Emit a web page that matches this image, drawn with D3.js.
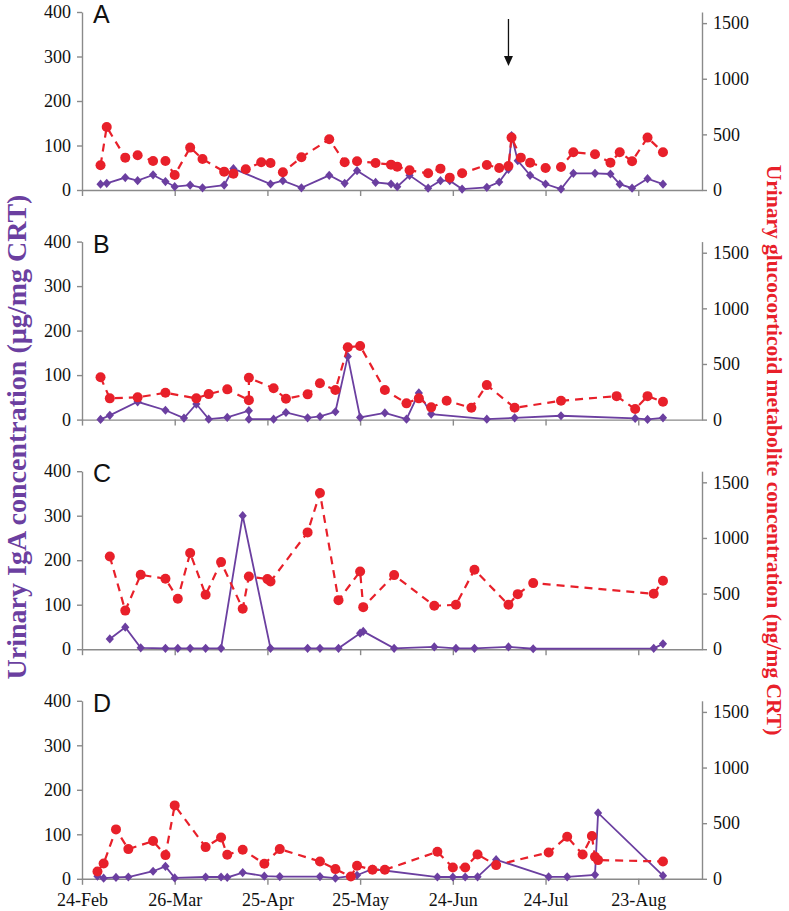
<!DOCTYPE html>
<html><head><meta charset="utf-8">
<script src="https://cdn.jsdelivr.net/npm/d3@7"></script>
<style>body{margin:0;background:#fff}svg{display:block}</style>
</head><body>
<svg id="chart" width="789" height="911"></svg>
<script>
// ---------- data ----------
const panelLabels = ["A", "B", "C", "D"];
const xTickLabels = ["24-Feb", "26-Mar", "25-Apr", "25-May", "24-Jun", "24-Jul", "23-Aug"];
const leftTicks = [0, 100, 200, 300, 400];
const rightTicks = [0, 500, 1000, 1500];
const arrowDate = "2011-07-12";

// Panel A
const aIgaDates = ["2011-03-02","2011-03-04","2011-03-10","2011-03-14","2011-03-19","2011-03-23","2011-03-26","2011-03-31","2011-04-04","2011-04-11","2011-04-14","2011-04-26","2011-04-30","2011-05-06","2011-05-15","2011-05-20","2011-05-24","2011-05-30","2011-06-04","2011-06-06","2011-06-10","2011-06-16","2011-06-20","2011-06-23","2011-06-27","2011-07-05","2011-07-09","2011-07-12","2011-07-13","2011-07-15","2011-07-19","2011-07-24","2011-07-29","2011-08-02","2011-08-09","2011-08-14","2011-08-17","2011-08-21","2011-08-26","2011-08-31"];
const aIgaValues = [13,15,28,21,34,19,7.5,11,5,11,48,13.5,21,5,33,15,43.5,17,13.5,7.5,33,4,21,21,2,6,18,46.5,122,66,33,13.5,2,37.5,37.5,36,13,4,25.5,13];
const aGcDates = ["2011-03-02","2011-03-04","2011-03-10","2011-03-14","2011-03-19","2011-03-23","2011-03-26","2011-03-31","2011-04-04","2011-04-11","2011-04-14","2011-04-18","2011-04-23","2011-04-26","2011-04-30","2011-05-06","2011-05-15","2011-05-20","2011-05-24","2011-05-30","2011-06-04","2011-06-06","2011-06-10","2011-06-16","2011-06-20","2011-06-23","2011-06-27","2011-07-05","2011-07-09","2011-07-12","2011-07-13","2011-07-16","2011-07-19","2011-07-24","2011-07-29","2011-08-02","2011-08-09","2011-08-14","2011-08-17","2011-08-21","2011-08-26","2011-08-31"];
const aGcValues = [222,567,291,312,261,261,135,381,279,165,147,186,249,243,159,294,456,249,258,243,228,210,177,150,192,111,150,225,198,216,471,291,246,198,207,339,321,246,339,258,471,339];

// Panel B
const bIgaDates = ["2011-03-02","2011-03-05","2011-03-14","2011-03-23","2011-03-29","2011-04-02","2011-04-06","2011-04-12","2011-04-19","2011-04-19","2011-04-27","2011-05-01","2011-05-08","2011-05-12","2011-05-17","2011-05-21","2011-05-25","2011-06-02","2011-06-09","2011-06-13","2011-06-17","2011-07-05","2011-07-14","2011-07-29","2011-08-22","2011-08-26","2011-08-31"];
const bIgaValues = [0.5,9.5,40,21,3.4,35,1,5,20,1,1,16,4,7,17.6,142,5,15,1,60,12.4,1,4,8.6,2.7,0.5,4];
const bGcDates = ["2011-03-02","2011-03-05","2011-03-14","2011-03-23","2011-04-02","2011-04-06","2011-04-12","2011-04-19","2011-04-19","2011-04-27","2011-05-01","2011-05-08","2011-05-12","2011-05-17","2011-05-21","2011-05-25","2011-06-02","2011-06-09","2011-06-13","2011-06-17","2011-06-22","2011-06-30","2011-07-05","2011-07-14","2011-07-29","2011-08-16","2011-08-22","2011-08-26","2011-08-31"];
const bGcValues = [380,191,200,241,191,229,272,175,376,281,187,227,326,266,650,662,266,146,191,110,169,106,310,106,169,211,95,211,160];

// Panel C
const cIgaDates = ["2011-03-05","2011-03-10","2011-03-15","2011-03-23","2011-03-27","2011-03-31","2011-04-05","2011-04-10","2011-04-17","2011-04-26","2011-05-08","2011-05-12","2011-05-18","2011-05-25","2011-05-26","2011-06-05","2011-06-18","2011-06-25","2011-07-01","2011-07-12","2011-07-20","2011-08-28","2011-08-31"];
const cIgaValues = [23,49.5,3,2,2,2,2,2,300,2,2,2,2,36,40,2,5,2,2,5,1,2,12];
const cGcDates = ["2011-03-05","2011-03-10","2011-03-15","2011-03-23","2011-03-27","2011-03-31","2011-04-05","2011-04-10","2011-04-17","2011-04-19","2011-04-25","2011-04-26","2011-05-08","2011-05-12","2011-05-18","2011-05-25","2011-05-26","2011-06-05","2011-06-18","2011-06-25","2011-07-01","2011-07-12","2011-07-15","2011-07-20","2011-08-28","2011-08-31"];
const cGcValues = [833,347,669,633,453,864,489,783,363,654,630,609,1050,1404,441,699,378,666,390,399,714,399,495,594,498,615];

// Panel D
const dIgaDates = ["2011-03-01","2011-03-03","2011-03-07","2011-03-11","2011-03-19","2011-03-23","2011-03-26","2011-04-05","2011-04-10","2011-04-12","2011-04-17","2011-04-24","2011-04-29","2011-05-12","2011-05-17","2011-05-24","2011-05-29","2011-06-19","2011-06-24","2011-06-28","2011-07-02","2011-07-08","2011-07-25","2011-07-31","2011-08-09","2011-08-10","2011-08-31"];
const dIgaValues = [6,1.5,3,4,17,28,2,4,4,3,14,6,5,5,1.5,8,22,4,4,4,4.5,43,4.5,4.5,9,148,7];
const dGcDates = ["2011-03-01","2011-03-03","2011-03-07","2011-03-11","2011-03-19","2011-03-23","2011-03-26","2011-04-05","2011-04-10","2011-04-12","2011-04-17","2011-04-24","2011-04-29","2011-05-12","2011-05-17","2011-05-22","2011-05-24","2011-05-29","2011-06-02","2011-06-19","2011-06-24","2011-06-28","2011-07-02","2011-07-08","2011-07-25","2011-07-31","2011-08-05","2011-08-08","2011-08-09","2011-08-10","2011-08-31"];
const dGcValues = [66,138,444,267,339,213,660,285,372,216,261,135,267,156,87,21,117,81,81,243,102,102,219,123,237,378,219,384,198,168,156];

const panels = [
  {iD: aIgaDates, iV: aIgaValues, gD: aGcDates, gV: aGcValues},
  {iD: bIgaDates, iV: bIgaValues, gD: bGcDates, gV: bGcValues},
  {iD: cIgaDates, iV: cIgaValues, gD: cGcDates, gV: cGcValues},
  {iD: dIgaDates, iV: dIgaValues, gD: dGcDates, gV: dGcValues}
];

// ---------- layout ----------
const parse = d3.timeParse("%Y-%m-%d");
const PURPLE = "#6b3fa0", RED = "#e8202a", AXIS = "#8a8a8a";
const X0 = 82, X1 = 702, PANEL_H = 178, PANEL_STEP = 229.6, TOP0 = 12;
const svg = d3.select("#chart");

const x = d3.scaleTime()
  .domain([parse("2011-02-24"), new Date(2011, 8, 12, 15)])
  .range([X0, X1]);
const xTickDates = d3.range(0, 7).map(i => d3.timeDay.offset(parse("2011-02-24"), i * 30));
const fmtTick = (d, i) => xTickLabels[i];

const diamond = "M0,-4.6L4.1,0L0,4.6L-4.1,0Z";

panels.forEach((p, pi) => {
  const top = TOP0 + pi * PANEL_STEP, bottom = top + PANEL_H;
  const yL = d3.scaleLinear().domain([0, 400]).range([bottom, top]);
  const yR = d3.scaleLinear().domain([0, 1600]).range([bottom, top]);
  const g = svg.append("g");

  const ax = (sel) => {
    sel.selectAll("path,line").attr("stroke", AXIS).attr("stroke-width", 1.4);
    sel.selectAll("text").attr("fill", "#111").attr("font-family", "'Liberation Serif','Times New Roman',serif").attr("font-size", 18);
  };
  g.append("g").attr("transform", `translate(${X0},0)`)
    .call(d3.axisLeft(yL).tickValues(leftTicks).tickSize(5).tickSizeOuter(0).tickPadding(6).tickFormat(d3.format("d")))
    .call(ax);
  g.append("g").attr("transform", `translate(${X1},0)`)
    .call(d3.axisRight(yR).tickValues(rightTicks).tickSize(5).tickSizeOuter(0).tickPadding(6).tickFormat(d3.format("d")))
    .call(ax);
  const xa = d3.axisBottom(x).tickValues(xTickDates).tickSize(6).tickSizeOuter(0).tickPadding(8)
    .tickFormat(pi === 3 ? fmtTick : () => "");
  g.append("g").attr("transform", `translate(0,${bottom})`).call(xa).call(ax);

  g.append("text").attr("x", X0 + 11).attr("y", top + 11).text(panelLabels[pi])
    .attr("font-family", "'Liberation Sans',Arial,sans-serif").attr("font-size", 25).attr("fill", "#111");

  const iga = p.iD.map((d, i) => ({x: parse(d), y: p.iV[i]}));
  g.append("path").datum(iga)
    .attr("d", d3.line().x(d => x(d.x)).y(d => yL(d.y)))
    .attr("fill", "none").attr("stroke", PURPLE).attr("stroke-width", 1.8);
  g.selectAll(".dia").data(iga).join("path")
    .attr("d", diamond).attr("transform", d => `translate(${x(d.x)},${yL(d.y)})`).attr("fill", PURPLE);

  const gc = p.gD.map((d, i) => ({x: parse(d), y: p.gV[i]}));
  g.append("path").datum(gc)
    .attr("d", d3.line().x(d => x(d.x)).y(d => yR(d.y)))
    .attr("fill", "none").attr("stroke", RED).attr("stroke-width", 2.2).attr("stroke-dasharray", "8,6");
  g.selectAll(".dot").data(gc).join("circle")
    .attr("cx", d => x(d.x)).attr("cy", d => yR(d.y)).attr("r", 5).attr("fill", RED);

  if (pi === 0) {
    const ax0 = x(parse(arrowDate));
    g.append("line").attr("x1", ax0).attr("x2", ax0).attr("y1", top + 7).attr("y2", top + 46)
      .attr("stroke", "#111").attr("stroke-width", 1.3);
    g.append("path").attr("d", `M${ax0 - 4.5},${top + 44}L${ax0 + 4.5},${top + 44}L${ax0},${top + 54}Z`).attr("fill", "#111");
  }
});

svg.append("text").attr("transform", "translate(26,437) rotate(-90)").attr("text-anchor", "middle")
  .attr("font-family", "'Liberation Serif','Times New Roman',serif").attr("font-weight", "bold").attr("font-size", 28)
  .attr("fill", PURPLE).text("Urinary IgA concentration (µg/mg CRT)");
svg.append("text").attr("transform", "translate(767,450) rotate(90)").attr("text-anchor", "middle")
  .attr("font-family", "'Liberation Serif','Times New Roman',serif").attr("font-weight", "bold").attr("font-size", 21.5)
  .attr("fill", RED).text("Urinary glucocorticoid metabolite concentration (ng/mg CRT)");
</script>
</body></html>
